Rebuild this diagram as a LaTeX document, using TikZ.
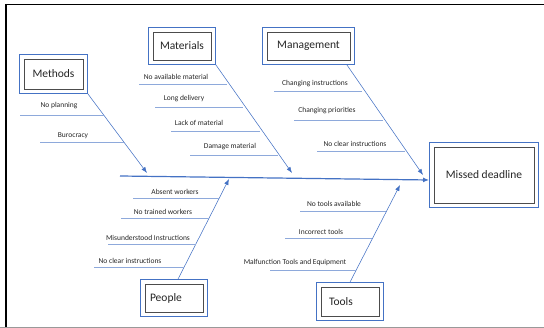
\documentclass[tikz,border=0pt]{standalone}
\usepackage{fontspec}
\setmainfont{Carlito}
\usetikzlibrary{arrows.meta,fit}
\definecolor{obl}{HTML}{4472C4}
\definecolor{lbl}{HTML}{8EA9DB}
\definecolor{ink}{HTML}{262626}
\tikzset{
  catbox/.style={draw=black!70, line width=0.9pt, fill=white, font=\fontsize{11.5}{13}\selectfont, text=ink, inner sep=0pt},
  outerbox/.style={draw=obl, line width=0.9pt, inner sep=4pt},
  bone/.style={draw=obl, line width=0.55pt, -{Latex[length=6pt,width=4.5pt]}},
  spineline/.style={draw=obl, line width=1.2pt, -{Latex[length=6pt,width=5pt]}},
  subline/.style={draw=lbl, line width=0.9pt},
  causelbl/.style={font=\fontsize{7.5}{9}\selectfont, text=ink, inner sep=0pt},
}
\begin{document}
\begin{tikzpicture}[x=1pt,y=-1pt]
\useasboundingbox (0,0) rectangle (544,328);
% frame
\draw[black, line width=1.6pt] (5,4.5) -- (544,4.5);
\draw[black, line width=2pt] (6,4) -- (6,328);
\draw[black!40, line width=1pt] (0,327.5) -- (544,327.5);

% boxes
\node[catbox, minimum width=59, minimum height=30] (methods) at (53.5,74) {Methods};
\node[outerbox, fit=(methods)] (methodsO) {};
\node[catbox, minimum width=58, minimum height=28] (materials) at (182,46) {Materials};
\node[outerbox, fit=(materials)] (materialsO) {};
\node[catbox, minimum width=83, minimum height=28] (management) at (308.5,46) {Management};
\node[outerbox, fit=(management)] (managementO) {};
\node[catbox, minimum width=100, minimum height=56] (missed) at (484,175) {Missed deadline};
\node[outerbox, fit=(missed)] (missedO) {};
\node[catbox, minimum height=28, text width=48, inner xsep=5, align=left] (people) at (174,298) {People};
\node[outerbox, fit=(people)] (peopleO) {};
\node[catbox, minimum height=29, text width=42, inner xsep=8, align=left] (tools) at (350,301.5) {Tools};
\node[outerbox, fit=(tools)] (toolsO) {};

% spine
\coordinate (spineS) at (120,176);
\draw[spineline] (spineS) -- ([yshift=-5pt]missedO.west);

% bones
\coordinate (tipMe) at (147,173);
\coordinate (tipMa) at (292,173);
\coordinate (tipMg) at (423,175);
\coordinate (tipPe) at (229,179);
\coordinate (tipTo) at (400,185);
\draw[bone] (methodsO.south east) -- (tipMe);
\draw[bone] (materialsO.south east) -- (tipMa);
\draw[bone] ([xshift=-8pt]managementO.south east) -- (tipMg);
\draw[bone] ([xshift=4pt]peopleO.north) -- (tipPe);
\draw[bone] (toolsO.north) -- (tipTo);

% Methods causes
\node[causelbl] (c1) at (59,106) {No planning};
\draw[subline] (20,115) -- (104,115);
\node[causelbl] (c2) at (73,136) {Burocracy};
\draw[subline] (40,142) -- (124,142);

% Materials causes
\node[causelbl] (c3) at (176,77) {No available material};
\draw[subline] (139,84) -- (227,84);
\node[causelbl] (c4) at (184,99) {Long delivery};
\draw[subline] (155,107) -- (243,107);
\node[causelbl] (c5) at (199,123) {Lack of material};
\draw[subline] (171,131) -- (260,131);
\node[causelbl] (c6) at (230,147) {Damage material};
\draw[subline] (190,155) -- (278,155);

% Management causes
\node[causelbl] (c7) at (315,84) {Changing instructions};
\draw[subline] (274,91) -- (362,91);
\node[causelbl] (c8) at (327,111) {Changing priorities};
\draw[subline] (294,120) -- (383,120);
\node[causelbl] (c9) at (355,144) {No clear instructions};
\draw[subline] (317,151) -- (405,151);

% People causes
\node[causelbl] (c10) at (175,192) {Absent workers};
\draw[subline] (133,198) -- (219,198);
\node[causelbl] (c11) at (163,212) {No trained workers};
\draw[subline] (121,218) -- (209,218);
\node[causelbl] (c12) at (148,238) {Misunderstood Instructions};
\draw[subline] (108,244) -- (196,244);
\node[causelbl] (c13) at (130,261) {No clear instructions};
\draw[subline] (94,267) -- (184,267);

% Tools causes
\node[causelbl] (c14) at (334,204) {No tools available};
\draw[subline] (300,211) -- (386,211);
\node[causelbl] (c15) at (321,232) {Incorrect tools};
\draw[subline] (285,238) -- (372,238);
\node[causelbl] (c16) at (295,263) {Malfunction Tools and Equipment};
\draw[subline] (270,270) -- (356,270);
\end{tikzpicture}
\end{document}
